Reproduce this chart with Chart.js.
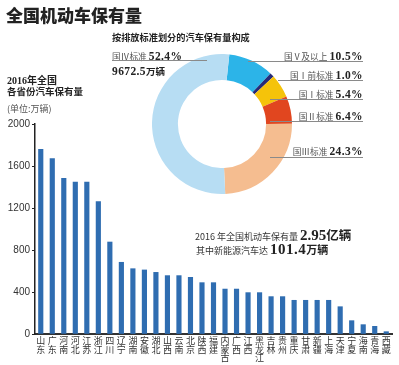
<!DOCTYPE html>
<html>
<head>
<meta charset="utf-8">
<script src="https://cdn.jsdelivr.net/npm/chart.js@4"></script>
<style>
  body { margin: 0; background: #fff; width: 399px; height: 365px; overflow: hidden; position: relative;
         font-family: "Noto Sans CJK SC", sans-serif; color: #222; }
  canvas { position: absolute; }
  .t { position: absolute; white-space: nowrap; }
  .n { font-family: "Liberation Serif", serif; font-weight: bold; }
  .b { font-weight: bold; }
  .g { color: #555; }
  .r { right: 36px; text-align: right; }
  .ln { position: absolute; height: 0; border-top: 1px solid #8a8a8a; }
</style>
</head>
<body>
<canvas id="bars" width="399" height="365" style="left:0;top:0"></canvas>
<canvas id="pie" width="140" height="140" style="left:152px;top:54px"></canvas>

<div class="t b" style="left:6px;top:5px;font-size:17px;line-height:20px;font-weight:900">全国机动车保有量</div>
<div class="t b" style="left:112px;top:31px;font-size:9.2px;line-height:12px">按排放标准划分的汽车保有量构成</div>

<div class="t" style="left:112px;top:45.5px;line-height:14px"><span class="g" style="font-size:8.7px">国Ⅳ标准</span><span class="n" style="font-size:11.5px;margin-left:2px;letter-spacing:0.4px">52.4%</span></div>
<div class="ln" style="left:112px;top:60px;width:95px"></div>
<div class="t" style="left:112px;top:61px;line-height:14px"><span class="n" style="font-size:11.5px;letter-spacing:0.4px">9672.5</span><span class="b" style="font-size:9.5px">万辆</span></div>

<div class="t r" style="top:45.7px;line-height:14px"><span class="g" style="font-size:8.7px">国Ⅴ及以上</span><span class="n" style="font-size:11.5px;margin-left:2px;letter-spacing:0.4px">10.5%</span></div>
<div class="ln" style="left:248px;top:60.5px;width:115px"></div>
<div class="t r" style="top:64.7px;line-height:14px"><span class="g" style="font-size:8.7px">国Ⅰ前标准</span><span class="n" style="font-size:11.5px;margin-left:2px;letter-spacing:0.4px">1.0%</span></div>
<div class="ln" style="left:278px;top:79.5px;width:85px"></div>
<div class="t r" style="top:83.7px;line-height:14px"><span class="g" style="font-size:8.7px">国Ⅰ标准</span><span class="n" style="font-size:11.5px;margin-left:2px;letter-spacing:0.4px">5.4%</span></div>
<div class="ln" style="left:270px;top:98.5px;width:93px"></div>
<div class="t r" style="top:105.7px;line-height:14px"><span class="g" style="font-size:8.7px">国Ⅱ标准</span><span class="n" style="font-size:11.5px;margin-left:2px;letter-spacing:0.4px">6.4%</span></div>
<div class="ln" style="left:270px;top:120.5px;width:93px"></div>
<div class="t r" style="top:141.3px;line-height:14px"><span class="g" style="font-size:8.7px">国Ⅲ标准</span><span class="n" style="font-size:11.5px;margin-left:2px;letter-spacing:0.4px">24.3%</span></div>
<div class="ln" style="left:270px;top:156.5px;width:93px"></div>

<div class="t b" style="left:7px;top:74px;line-height:12px;font-size:10px"><span class="n">2016</span>年全国</div>
<div class="t b" style="left:7px;top:84.7px;line-height:12px;font-size:9.5px">各省份汽车保有量</div>
<div class="t g" style="left:7px;top:103px;line-height:12px;font-size:9px">(单位:万辆)</div>

<div class="t" style="left:195px;top:224.7px;line-height:16px"><span style="font-size:9px;color:#333">2016 年全国机动车保有量</span><span class="n" style="font-size:15px;margin-left:2px">2.95</span><span class="b" style="font-size:12.5px">亿辆</span></div>
<div class="t" style="left:196px;top:238.7px;line-height:16px"><span style="font-size:9px;color:#333">其中新能源汽车达</span><span class="n" style="font-size:15px;margin-left:2px;letter-spacing:0.5px">101.4</span><span class="b" style="font-size:11px">万辆</span></div>

<script>
// 2016 各省份汽车保有量 (万辆)
const provinces = [['山','东'],['广','东'],['河','南'],['河','北'],['江','苏'],['浙','江'],['四','川'],['辽','宁'],
  ['湖','南'],['安','徽'],['湖','北'],['山','西'],['云','南'],['北','京'],['陕','西'],['福','建'],['内','蒙','古'],
  ['广','西'],['江','西'],['黑','龙','江'],['吉','林'],['贵','州'],['重','庆'],['甘','肃'],['新','疆'],['上','海'],
  ['天','津'],['宁','夏'],['海','南'],['青','海'],['西','藏']];
const vehicles = [1759, 1670, 1483, 1448, 1448, 1260, 876, 683, 622, 610, 587, 556, 556, 540, 489, 489, 428,
  428, 394, 394, 356, 356, 321, 321, 321, 321, 260, 127, 89, 73, 22];
const yTicks = [0, 400, 800, 1200, 1600, 2000];

// 按排放标准划分 (%), clockwise from top
const standards = ['国Ⅴ及以上', '国Ⅰ前标准', '国Ⅰ标准', '国Ⅱ标准', '国Ⅲ标准', '国Ⅳ标准'];
const shares = [10.5, 1.0, 5.4, 6.4, 24.3, 52.4];
const shareColors = ['#2cb4e8', '#262a78', '#f5c30a', '#e1461f', '#f5bd90', '#b7ddf3'];

new Chart(document.getElementById('bars'), {
  type: 'bar',
  data: {
    labels: provinces,
    datasets: [{ data: vehicles, backgroundColor: '#2f6db1', barThickness: 4.5 }]
  },
  options: {
    responsive: false,
    animation: false,
    layout: { padding: { top: 124, right: 7, left: 0, bottom: 0 } },
    plugins: { legend: { display: false }, tooltip: { enabled: false } },
    scales: {
      x: {
        grid: { display: false, drawTicks: false },
        border: { color: '#333', width: 2 },
        ticks: { autoSkip: false, maxRotation: 0, padding: 2, color: '#333',
                 font: { family: '"Noto Sans CJK SC"', size: 9, lineHeight: 0.97 } },
        afterFit: s => { s.height = 31; }
      },
      y: {
        min: 0, max: 2000,
        afterBuildTicks: s => { s.ticks = yTicks.map(v => ({ value: v })); },
        grid: { drawOnChartArea: false, tickLength: 3, color: '#222' },
        border: { color: '#222', width: 1.5 },
        ticks: { padding: 2, color: '#333', font: { family: '"Liberation Sans", Arial', size: 10 },
                 callback: v => String(v) },
        afterFit: s => { s.width = 35; }
      }
    }
  }
});

new Chart(document.getElementById('pie'), {
  type: 'doughnut',
  data: {
    labels: standards,
    datasets: [{ data: shares, backgroundColor: shareColors, borderWidth: 0 }]
  },
  options: {
    responsive: false,
    animation: false,
    rotation: 6,
    cutout: '63%',
    plugins: { legend: { display: false }, tooltip: { enabled: false } }
  }
});
</script>
</body>
</html>
